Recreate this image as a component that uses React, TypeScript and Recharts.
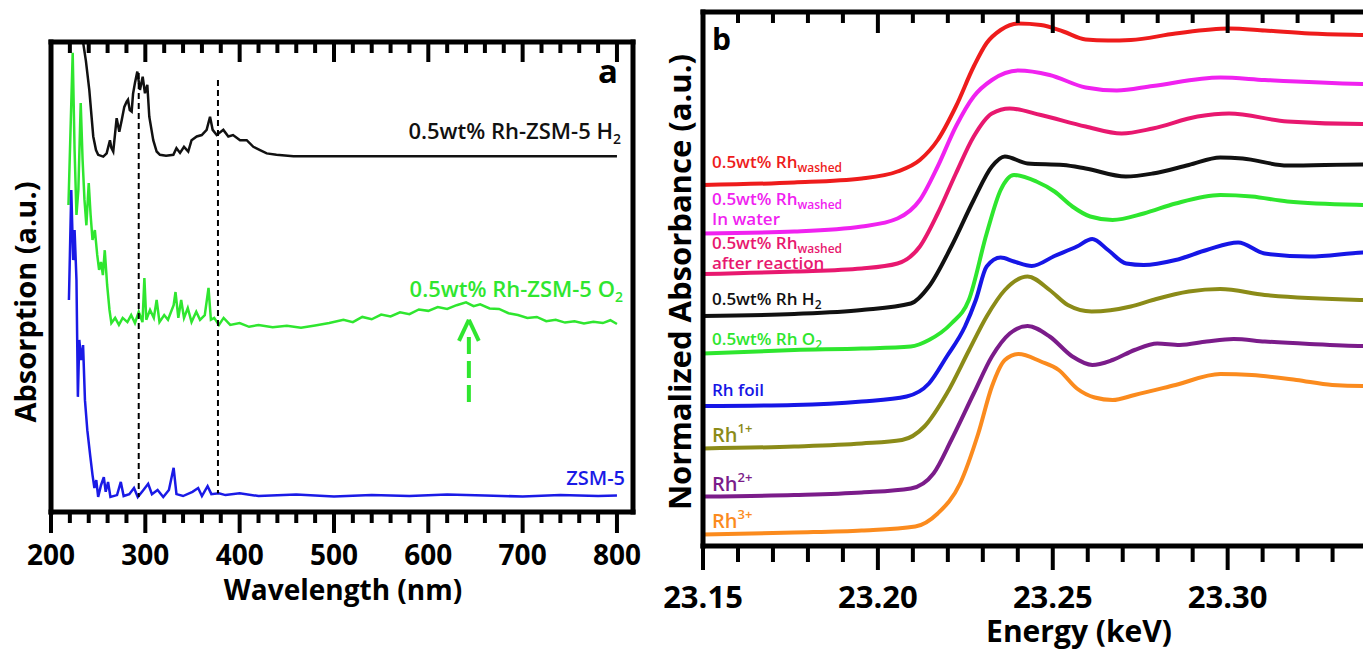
import React from 'react';
import { LineChart, Line, XAxis, YAxis, ReferenceLine } from 'recharts';

const FONT = "'Open Sans', 'DejaVu Sans', sans-serif";

// ---------------- Panel a : UV-vis ----------------
const uvXDomain: [number, number] = [200, 817];
const uvYDomain: [number, number] = [0, 100];
const wavelengthMajorTicks = [200, 300, 400, 500, 600, 700, 800];
const wavelengthTickLabels = ['200', '300', '400', '500', '600', '700', '800'];
const wavelengthMinorTicks = [220, 240, 260, 280, 320, 340, 360, 380, 420, 440, 460, 480, 520, 540, 560, 580, 620, 640, 660, 680, 720, 740, 760, 780];

const uvH2 = [
  { x: 230, y: 112 }, { x: 234, y: 100 }, { x: 237, y: 96 }, { x: 240.6, y: 89.8 }, { x: 243, y: 84.1 },
  { x: 244.8, y: 79.9 }, { x: 247.7, y: 77 }, { x: 250, y: 76 }, { x: 255.4, y: 75.6 }, { x: 259, y: 76.3 },
  { x: 262.5, y: 79.1 }, { x: 264, y: 77.5 }, { x: 266, y: 76.7 }, { x: 269.6, y: 83.8 }, { x: 272.4, y: 80.9 },
  { x: 275, y: 83.4 }, { x: 277.7, y: 86.2 }, { x: 280.2, y: 87.3 }, { x: 281.6, y: 87.7 }, { x: 283.5, y: 85.5 },
  { x: 285.5, y: 85.2 }, { x: 287, y: 89 }, { x: 289, y: 91.3 }, { x: 291.5, y: 93.7 }, { x: 294.3, y: 89.8 },
  { x: 297.2, y: 92.6 }, { x: 299.6, y: 89.1 }, { x: 302.1, y: 90.9 }, { x: 304.2, y: 84.1 }, { x: 308.4, y: 79.1 },
  { x: 312, y: 76.7 }, { x: 315.5, y: 76 }, { x: 322, y: 75.8 }, { x: 329.7, y: 76 }, { x: 333, y: 77.4 },
  { x: 336.8, y: 76.4 }, { x: 341, y: 77.7 }, { x: 345.5, y: 76.7 }, { x: 349, y: 79.1 }, { x: 354.5, y: 79.9 },
  { x: 359.8, y: 80.2 }, { x: 365, y: 81.3 }, { x: 368.6, y: 84.1 }, { x: 371.4, y: 81.3 }, { x: 375.7, y: 80.2 },
  { x: 382.7, y: 81.3 }, { x: 388, y: 79.9 }, { x: 393, y: 80.2 }, { x: 400.4, y: 79.1 }, { x: 407.5, y: 79.1 },
  { x: 414.5, y: 77.7 }, { x: 421.6, y: 77 }, { x: 428.7, y: 76.3 }, { x: 439, y: 76 }, { x: 457, y: 75.7 },
  { x: 800, y: 75.7 },
];

const uvO2 = [
  { x: 218.5, y: 65.3 }, { x: 221, y: 83.4 }, { x: 223, y: 97.7 }, { x: 225, y: 77 }, { x: 227, y: 63.2 },
  { x: 229, y: 68.5 }, { x: 231.5, y: 87 }, { x: 233.5, y: 74.9 }, { x: 235.5, y: 66.4 }, { x: 237.5, y: 61 },
  { x: 240, y: 70 }, { x: 242, y: 63.2 }, { x: 244, y: 57.9 }, { x: 246.5, y: 60 }, { x: 249, y: 54.7 },
  { x: 251, y: 51.5 }, { x: 253, y: 53.2 }, { x: 255, y: 50.4 }, { x: 257, y: 55.7 }, { x: 259.5, y: 48.3 },
  { x: 262, y: 43 }, { x: 264, y: 40.2 }, { x: 268, y: 41.3 }, { x: 272, y: 39.8 }, { x: 276, y: 41.3 },
  { x: 281, y: 40.4 }, { x: 285, y: 41.9 }, { x: 289, y: 40.2 }, { x: 293, y: 42.6 }, { x: 297, y: 40.4 },
  { x: 299, y: 49.8 }, { x: 301, y: 40.9 }, { x: 305, y: 43 }, { x: 309, y: 41.3 }, { x: 312, y: 45.1 },
  { x: 315, y: 40.4 }, { x: 320, y: 41.9 }, { x: 324, y: 40.9 }, { x: 330, y: 44 }, { x: 332, y: 46.8 },
  { x: 335, y: 41.3 }, { x: 338, y: 45.1 }, { x: 341, y: 41.3 }, { x: 345, y: 43.4 }, { x: 349, y: 40.4 },
  { x: 354, y: 42.6 }, { x: 358, y: 40.9 }, { x: 363, y: 41.9 }, { x: 367, y: 47.7 }, { x: 369.5, y: 40.9 },
  { x: 373, y: 41.3 }, { x: 378, y: 39.8 }, { x: 383, y: 41.3 }, { x: 390, y: 39.8 }, { x: 400, y: 40.2 },
  { x: 410, y: 39.4 }, { x: 420, y: 39.8 }, { x: 435, y: 39.3 }, { x: 450, y: 39.6 }, { x: 465, y: 39.2 },
  { x: 480, y: 39.7 }, { x: 495, y: 40.2 }, { x: 510, y: 40.9 }, { x: 520, y: 40.4 }, { x: 530, y: 41.5 },
  { x: 540, y: 41 }, { x: 550, y: 42 }, { x: 560, y: 41.6 }, { x: 570, y: 42.5 }, { x: 580, y: 42.1 },
  { x: 590, y: 43.1 }, { x: 600, y: 42.8 }, { x: 610, y: 43.6 }, { x: 620, y: 43.2 }, { x: 630, y: 44 },
  { x: 640, y: 44.6 }, { x: 648, y: 43.8 }, { x: 655, y: 44.2 }, { x: 665, y: 43.3 }, { x: 675, y: 43.2 },
  { x: 685, y: 42.3 }, { x: 695, y: 41.9 }, { x: 705, y: 41.3 }, { x: 715, y: 41.5 }, { x: 725, y: 40.6 },
  { x: 735, y: 40.9 }, { x: 745, y: 40.3 }, { x: 755, y: 40.6 }, { x: 765, y: 40.1 }, { x: 775, y: 40.5 },
  { x: 785, y: 40.2 }, { x: 793, y: 40.8 }, { x: 800, y: 40 },
];

const uvZSM5 = [
  { x: 219, y: 45.1 }, { x: 221.5, y: 68.5 }, { x: 223.5, y: 53.6 }, { x: 225, y: 60 }, { x: 227, y: 49.4 },
  { x: 228.5, y: 24.5 }, { x: 230, y: 36.6 }, { x: 232, y: 32.3 }, { x: 234, y: 35.5 }, { x: 236, y: 23.8 },
  { x: 238.5, y: 17.4 }, { x: 241.5, y: 12.1 }, { x: 244, y: 7.9 }, { x: 246, y: 5.1 }, { x: 248, y: 6.8 },
  { x: 250, y: 3.2 }, { x: 253, y: 5.7 }, { x: 256, y: 7.4 }, { x: 258, y: 4.3 }, { x: 260.5, y: 6.4 },
  { x: 263, y: 3.2 }, { x: 270, y: 3.6 }, { x: 274, y: 6.4 }, { x: 277, y: 3.4 }, { x: 283, y: 3.8 },
  { x: 288, y: 5.1 }, { x: 292, y: 3.2 }, { x: 298, y: 4.7 }, { x: 303, y: 6 }, { x: 307, y: 3.8 },
  { x: 313, y: 4.7 }, { x: 319, y: 3.2 }, { x: 325, y: 4.7 }, { x: 330, y: 9.4 }, { x: 333, y: 3.8 },
  { x: 340, y: 3.4 }, { x: 350, y: 4.3 }, { x: 356, y: 5.1 }, { x: 360, y: 3.4 }, { x: 366, y: 5.5 },
  { x: 370, y: 3.8 }, { x: 378, y: 4 }, { x: 385, y: 3.6 }, { x: 400, y: 4 }, { x: 420, y: 3.4 },
  { x: 460, y: 3.7 }, { x: 500, y: 3.3 }, { x: 540, y: 3.6 }, { x: 580, y: 3.4 }, { x: 620, y: 3.7 },
  { x: 660, y: 3.5 }, { x: 700, y: 3.3 }, { x: 740, y: 3.6 }, { x: 780, y: 3.4 }, { x: 800, y: 3.5 },
];

const markerWavelengths = [293, 377];
const markerTops = [93.4, 91.9];
const markerBottoms = [3.2, 4.0];
const arrowWavelength = 643;
const arrowBase = 23.4;
const arrowShaftTop = 38.3;
const arrowTip = 40.9;
const arrowWing = 36.4;
const arrowHalfWidth = 10.5;

// ---------------- Panel b : XANES ----------------
const energyDomain: [number, number] = [23.15, 23.365];
const absYDomain: [number, number] = [0, 10.68];
const energyMajorTicks = [23.15, 23.2, 23.25, 23.3, 23.35];
const energyTickLabels = ['23.15', '23.20', '23.25', '23.30', ''];
const energyMinorTicks = [23.16, 23.17, 23.18, 23.19, 23.21, 23.22, 23.23, 23.24, 23.26, 23.27, 23.28, 23.29, 23.31, 23.32, 23.33, 23.34, 23.36];

const xanesWashed = [
  { x: 23.15, y: 7.22 }, { x: 23.1761, y: 7.27 }, { x: 23.1954, y: 7.35 }, { x: 23.2056, y: 7.49 }, { x: 23.212, y: 7.72 },
  { x: 23.2171, y: 8.12 }, { x: 23.2223, y: 8.79 }, { x: 23.2274, y: 9.59 }, { x: 23.2311, y: 10.06 }, { x: 23.2351, y: 10.32 },
  { x: 23.2402, y: 10.45 }, { x: 23.2466, y: 10.42 }, { x: 23.253, y: 10.29 }, { x: 23.2594, y: 10.13 }, { x: 23.2658, y: 10.11 },
  { x: 23.2723, y: 10.12 }, { x: 23.2851, y: 10.25 }, { x: 23.3004, y: 10.35 }, { x: 23.3106, y: 10.31 }, { x: 23.3234, y: 10.25 },
  { x: 23.3386, y: 10.22 }, { x: 23.36, y: 10.2 },
];
const xanesWater = [
  { x: 23.15, y: 6.25 }, { x: 23.1761, y: 6.29 }, { x: 23.1954, y: 6.39 }, { x: 23.2056, y: 6.55 }, { x: 23.212, y: 6.92 },
  { x: 23.2171, y: 7.59 }, { x: 23.2223, y: 8.39 }, { x: 23.2274, y: 8.99 }, { x: 23.2326, y: 9.32 }, { x: 23.2402, y: 9.51 },
  { x: 23.2491, y: 9.42 }, { x: 23.2594, y: 9.17 }, { x: 23.2683, y: 9.11 }, { x: 23.2786, y: 9.2 }, { x: 23.2979, y: 9.37 },
  { x: 23.3106, y: 9.32 }, { x: 23.3386, y: 9.24 }, { x: 23.36, y: 9.22 },
];
const xanesReaction = [
  { x: 23.15, y: 5.44 }, { x: 23.1761, y: 5.49 }, { x: 23.1954, y: 5.55 }, { x: 23.2056, y: 5.65 }, { x: 23.212, y: 5.99 },
  { x: 23.2171, y: 6.65 }, { x: 23.2223, y: 7.45 }, { x: 23.2274, y: 8.19 }, { x: 23.2326, y: 8.65 }, { x: 23.2377, y: 8.75 },
  { x: 23.2466, y: 8.62 }, { x: 23.2594, y: 8.39 }, { x: 23.2697, y: 8.25 }, { x: 23.2786, y: 8.35 }, { x: 23.2914, y: 8.59 },
  { x: 23.3004, y: 8.65 }, { x: 23.3171, y: 8.49 }, { x: 23.3386, y: 8.44 }, { x: 23.36, y: 8.45 },
];
const xanesH2 = [
  { x: 23.15, y: 4.6 }, { x: 23.1761, y: 4.64 }, { x: 23.1954, y: 4.72 }, { x: 23.2094, y: 4.85 }, { x: 23.2146, y: 5.19 },
  { x: 23.221, y: 5.99 }, { x: 23.2274, y: 6.92 }, { x: 23.2326, y: 7.59 }, { x: 23.2363, y: 7.79 }, { x: 23.2428, y: 7.65 },
  { x: 23.253, y: 7.62 }, { x: 23.2594, y: 7.55 }, { x: 23.2709, y: 7.39 }, { x: 23.2786, y: 7.45 }, { x: 23.2889, y: 7.62 },
  { x: 23.2979, y: 7.77 }, { x: 23.3043, y: 7.75 }, { x: 23.3171, y: 7.61 }, { x: 23.3386, y: 7.63 }, { x: 23.36, y: 7.62 },
];
const xanesO2 = [
  { x: 23.15, y: 3.85 }, { x: 23.1761, y: 3.92 }, { x: 23.1954, y: 3.95 }, { x: 23.2094, y: 3.99 }, { x: 23.2146, y: 4.12 },
  { x: 23.221, y: 4.45 }, { x: 23.226, y: 4.92 }, { x: 23.2311, y: 6.25 }, { x: 23.2351, y: 7.12 }, { x: 23.2389, y: 7.42 },
  { x: 23.2453, y: 7.29 }, { x: 23.2505, y: 7.09 }, { x: 23.2556, y: 6.79 }, { x: 23.2607, y: 6.59 }, { x: 23.2671, y: 6.52 },
  { x: 23.276, y: 6.65 }, { x: 23.2851, y: 6.85 }, { x: 23.2979, y: 7.02 }, { x: 23.3069, y: 6.99 }, { x: 23.3171, y: 6.89 },
  { x: 23.3386, y: 6.82 }, { x: 23.36, y: 6.8 },
];
const xanesFoil = [
  { x: 23.15, y: 2.8 }, { x: 23.1761, y: 2.82 }, { x: 23.1954, y: 2.89 }, { x: 23.2082, y: 2.99 }, { x: 23.2146, y: 3.25 },
  { x: 23.2197, y: 3.79 }, { x: 23.2249, y: 4.39 }, { x: 23.228, y: 4.92 }, { x: 23.2311, y: 5.59 }, { x: 23.2351, y: 5.77 },
  { x: 23.2389, y: 5.69 }, { x: 23.244, y: 5.6 }, { x: 23.2505, y: 5.8 }, { x: 23.2569, y: 5.99 }, { x: 23.2613, y: 6.14 },
  { x: 23.2658, y: 5.92 }, { x: 23.271, y: 5.65 }, { x: 23.276, y: 5.62 }, { x: 23.2851, y: 5.72 }, { x: 23.294, y: 5.92 },
  { x: 23.303, y: 6.07 }, { x: 23.3106, y: 5.85 }, { x: 23.3234, y: 5.79 }, { x: 23.3386, y: 5.87 }, { x: 23.36, y: 5.9 },
];
const xanesRh1 = [
  { x: 23.15, y: 1.95 }, { x: 23.1761, y: 1.99 }, { x: 23.1954, y: 2.05 }, { x: 23.2069, y: 2.12 }, { x: 23.2133, y: 2.39 },
  { x: 23.2197, y: 3.05 }, { x: 23.2261, y: 3.92 }, { x: 23.2311, y: 4.59 }, { x: 23.2363, y: 5.12 }, { x: 23.2428, y: 5.39 },
  { x: 23.2491, y: 5.12 }, { x: 23.2543, y: 4.82 }, { x: 23.2611, y: 4.69 }, { x: 23.2723, y: 4.79 }, { x: 23.2786, y: 4.92 },
  { x: 23.2889, y: 5.09 }, { x: 23.2979, y: 5.14 }, { x: 23.3106, y: 5.02 }, { x: 23.3386, y: 4.92 }, { x: 23.36, y: 4.9 },
];
const xanesRh2 = [
  { x: 23.15, y: 0.99 }, { x: 23.1761, y: 1.02 }, { x: 23.1954, y: 1.07 }, { x: 23.2094, y: 1.15 }, { x: 23.2159, y: 1.45 },
  { x: 23.221, y: 2.12 }, { x: 23.2274, y: 3.05 }, { x: 23.2326, y: 3.79 }, { x: 23.2377, y: 4.25 }, { x: 23.2428, y: 4.4 },
  { x: 23.2491, y: 4.19 }, { x: 23.2556, y: 3.79 }, { x: 23.2613, y: 3.62 }, { x: 23.2671, y: 3.72 }, { x: 23.2734, y: 3.92 },
  { x: 23.2799, y: 4.05 }, { x: 23.2863, y: 4.02 }, { x: 23.294, y: 4.09 }, { x: 23.3017, y: 4.14 }, { x: 23.3106, y: 4.09 },
  { x: 23.3234, y: 4.04 }, { x: 23.3386, y: 4.0 }, { x: 23.36, y: 3.99 },
];
const xanesRh3 = [
  { x: 23.15, y: 0.23 }, { x: 23.1761, y: 0.27 }, { x: 23.1954, y: 0.31 }, { x: 23.2107, y: 0.39 }, { x: 23.2171, y: 0.65 },
  { x: 23.2235, y: 1.25 }, { x: 23.2287, y: 2.25 }, { x: 23.2326, y: 3.19 }, { x: 23.2363, y: 3.72 }, { x: 23.2402, y: 3.84 },
  { x: 23.2466, y: 3.69 }, { x: 23.2517, y: 3.52 }, { x: 23.2569, y: 3.15 }, { x: 23.262, y: 2.97 }, { x: 23.2671, y: 2.92 },
  { x: 23.2734, y: 3.02 }, { x: 23.2851, y: 3.22 }, { x: 23.2979, y: 3.44 }, { x: 23.3069, y: 3.42 }, { x: 23.3197, y: 3.32 },
  { x: 23.3299, y: 3.22 }, { x: 23.3386, y: 3.2 }, { x: 23.36, y: 3.2 },
];

const xanesSeries = [
  { data: xanesWashed, color: '#ee1c1c' },
  { data: xanesWater, color: '#f022f0' },
  { data: xanesReaction, color: '#e8186f' },
  { data: xanesH2, color: '#111111' },
  { data: xanesO2, color: '#2ee62e' },
  { data: xanesFoil, color: '#1616e6' },
  { data: xanesRh1, color: '#8b8b18' },
  { data: xanesRh2, color: '#7b1c8a' },
  { data: xanesRh3, color: '#fb8b1e' },
];

const sortNum = (a: number, b: number) => a - b;
const uvAllTicks = [...wavelengthMajorTicks, ...wavelengthMinorTicks].sort(sortNum);
const energyAllTicks = [...energyMajorTicks, ...energyMinorTicks].sort(sortNum);
const isMajor = (majors: number[], v: number) => majors.some((m) => Math.abs(m - v) < 1e-6);

// layout of the two plot areas (pixels)
const A_LEFT = 51, A_RIGHT = 633, A_TOP = 42, A_BOTTOM = 512;
const B_LEFT = 703, B_RIGHT = 1455, B_TOP = 12, B_BOTTOM = 546;
const B_OFFSET = 650;

// Outward bottom tick + label
function makeTick(majors: number[], labels: string[], botMajor: number, botMinor: number, labelDy: number, fontSize: number) {
  return (props: any) => {
    const { x, y, payload } = props;
    const v = payload.value;
    const idx = majors.findIndex((m) => Math.abs(m - v) < 1e-6);
    const major = idx >= 0;
    return (
      <g>
        <line x1={x} x2={x} y1={y} y2={y + (major ? botMajor : botMinor)} stroke="#000" strokeWidth={4} />
        {major && labels[idx] ? (
          <text x={x} y={y + labelDy} textAnchor="middle" fontFamily={FONT} fontWeight={700} fontSize={fontSize} fill="#000">
            {labels[idx]}
          </text>
        ) : null}
      </g>
    );
  };
}

const uvTick = makeTick(wavelengthMajorTicks, wavelengthTickLabels, 21, 11, 53, 28);
const enTick = makeTick(energyMajorTicks, energyTickLabels, 24, 16, 62, 31);

// inward ticks on the top frame edge, placed with the same linear mapping as the x axis
function topTicks(all: number[], majors: number[], domain: [number, number], left: number, right: number, top: number,
  majorLen: number, minorLen: number, prefix: string) {
  const k = (right - left) / (domain[1] - domain[0]);
  return all.map((t) => {
    const px = left + (t - domain[0]) * k;
    if (px > 1363) return null;
    const len = isMajor(majors, t) ? majorLen : minorLen;
    return <line key={prefix + t} x1={px} x2={px} y1={top} y2={top + len} stroke="#000" strokeWidth={4} />;
  });
}

function frame(xd: [number, number], yd: [number, number], prefix: string) {
  return [
    <ReferenceLine key={prefix + 'fb'} y={yd[0]} ifOverflow="visible" stroke="#000" strokeWidth={5} strokeLinecap="square" />,
    <ReferenceLine key={prefix + 'ft'} y={yd[1]} ifOverflow="visible" stroke="#000" strokeWidth={5} strokeLinecap="square" />,
    <ReferenceLine key={prefix + 'fl'} x={xd[0]} ifOverflow="visible" stroke="#000" strokeWidth={5} strokeLinecap="square" />,
    <ReferenceLine key={prefix + 'fr'} x={xd[1]} ifOverflow="visible" stroke="#000" strokeWidth={5} strokeLinecap="square" />,
  ];
}

const txt = (extra: any = {}) => ({ fontFamily: FONT, ...extra });

export default function App() {
  return (
    <div style={{ position: 'absolute', left: 0, top: 0, width: 1363, height: 650, overflow: 'hidden', background: '#fff' }}>
      <div style={{ position: 'absolute', left: 0, top: 0 }}>
        <LineChart width={660} height={650} margin={{ top: A_TOP, right: 660 - A_RIGHT, bottom: 650 - A_BOTTOM - 60, left: A_LEFT }}>
          <XAxis dataKey="x" type="number" domain={uvXDomain} allowDataOverflow ticks={uvAllTicks} interval={0}
            tickSize={0} tickMargin={0} tickLine={false} axisLine={false} tick={uvTick} height={60} />
          <YAxis hide type="number" domain={uvYDomain} allowDataOverflow />
          <Line data={uvH2} dataKey="y" stroke="#111" strokeWidth={2.5} dot={false} activeDot={false} isAnimationActive={false} type="linear" />
          <Line data={uvO2} dataKey="y" stroke="#2fe62f" strokeWidth={2.5} dot={false} activeDot={false} isAnimationActive={false} type="linear" />
          <Line data={uvZSM5} dataKey="y" stroke="#1a1ae6" strokeWidth={2.5} dot={false} activeDot={false} isAnimationActive={false} type="linear" />
          {markerWavelengths.map((w, i) => (
            <ReferenceLine key={'m' + i} segment={[{ x: w, y: markerTops[i] }, { x: w, y: markerBottoms[i] }]}
              stroke="#000" strokeWidth={2} strokeDasharray="6 4" />
          ))}
          <ReferenceLine segment={[{ x: arrowWavelength, y: arrowBase }, { x: arrowWavelength, y: arrowShaftTop }]}
            stroke="#2fe62f" strokeWidth={4} strokeDasharray="17 7" />
          <ReferenceLine segment={[{ x: arrowWavelength - arrowHalfWidth, y: arrowWing }, { x: arrowWavelength, y: arrowTip }]}
            stroke="#2fe62f" strokeWidth={4} />
          <ReferenceLine segment={[{ x: arrowWavelength + arrowHalfWidth, y: arrowWing }, { x: arrowWavelength, y: arrowTip }]}
            stroke="#2fe62f" strokeWidth={4} />
          {frame(uvXDomain, uvYDomain, 'a')}
        </LineChart>
      </div>
      <div style={{ position: 'absolute', left: B_OFFSET, top: 0 }}>
        <LineChart width={820} height={650} margin={{ top: B_TOP, right: 820 - (B_RIGHT - B_OFFSET), bottom: 650 - B_BOTTOM - 60, left: B_LEFT - B_OFFSET }}>
          <XAxis dataKey="x" type="number" domain={energyDomain} allowDataOverflow ticks={energyAllTicks} interval={0}
            tickSize={0} tickMargin={0} tickLine={false} axisLine={false} tick={enTick} height={60} />
          <YAxis hide type="number" domain={absYDomain} allowDataOverflow />
          {xanesSeries.map((s, i) => (
            <Line key={'x' + i} data={s.data} dataKey="y" stroke={s.color} strokeWidth={4} dot={false} activeDot={false}
              isAnimationActive={false} type="monotone" />
          ))}
          {frame(energyDomain, absYDomain, 'b')}
        </LineChart>
      </div>
      <svg width={1363} height={650} style={{ position: 'absolute', left: 0, top: 0, pointerEvents: 'none' }}>
        {topTicks(uvAllTicks, wavelengthMajorTicks, uvXDomain, A_LEFT, A_RIGHT, A_TOP, 20, 11, 'ta')}
        {topTicks(energyAllTicks, energyMajorTicks, energyDomain, B_LEFT, B_RIGHT, B_TOP, 21, 11, 'tb')}

        {/* panel a texts */}
        <text transform="translate(36,302) rotate(-90)" textAnchor="middle" {...txt({ fontSize: 29, fontWeight: 700 })} fill="#000">Absorption (a.u.)</text>
        <text x={343} y={600} textAnchor="middle" {...txt({ fontSize: 28, fontWeight: 700 })} fill="#000">Wavelength (nm)</text>
        <text x={608} y={83} textAnchor="middle" {...txt({ fontSize: 33, fontWeight: 700 })} fill="#000">a</text>
        <text x={621} y={139} textAnchor="end" {...txt({ fontSize: 22, fontWeight: 600 })} fill="#111">
          0.5wt% Rh-ZSM-5 H<tspan fontSize={14} dy={5}>2</tspan>
        </text>
        <text x={623} y={297} textAnchor="end" {...txt({ fontSize: 22, fontWeight: 600 })} fill="#2fe62f">
          0.5wt% Rh-ZSM-5 O<tspan fontSize={14} dy={5}>2</tspan>
        </text>
        <text x={625} y={485} textAnchor="end" {...txt({ fontSize: 20, fontWeight: 600 })} fill="#1a1ae6">ZSM-5</text>

        {/* panel b texts */}
        <text transform="translate(691,282) rotate(-90)" textAnchor="middle" {...txt({ fontSize: 31, fontWeight: 700 })} fill="#000">Normalized Absorbance (a.u.)</text>
        <text x={1079} y={642} textAnchor="middle" {...txt({ fontSize: 30, fontWeight: 700 })} fill="#000">Energy (keV)</text>
        <text x={712} y={50} {...txt({ fontSize: 30, fontWeight: 700 })} fill="#000">b</text>

        <text x={712} y={168} {...txt({ fontSize: 17, fontWeight: 600 })} fill="#ee1c1c">
          0.5wt% Rh<tspan fontSize={12} dy={4}>washed</tspan>
        </text>
        <text x={712} y={205} {...txt({ fontSize: 17, fontWeight: 600 })} fill="#f022f0">
          0.5wt% Rh<tspan fontSize={12} dy={4}>washed</tspan>
        </text>
        <text x={712} y={225} {...txt({ fontSize: 17, fontWeight: 600 })} fill="#f022f0">In water</text>
        <text x={712} y={249} {...txt({ fontSize: 17, fontWeight: 600 })} fill="#e8186f">
          0.5wt% Rh<tspan fontSize={12} dy={4}>washed</tspan>
        </text>
        <text x={712} y={269} {...txt({ fontSize: 17, fontWeight: 600 })} fill="#e8186f">after reaction</text>
        <text x={712} y={305} {...txt({ fontSize: 17, fontWeight: 600 })} fill="#111">
          0.5wt% Rh H<tspan fontSize={12} dy={4}>2</tspan>
        </text>
        <text x={712} y={345} {...txt({ fontSize: 17, fontWeight: 600 })} fill="#2ee62e">
          0.5wt% Rh O<tspan fontSize={12} dy={4}>2</tspan>
        </text>
        <text x={712} y={396} {...txt({ fontSize: 17, fontWeight: 600 })} fill="#1616e6">Rh foil</text>
        <text x={712} y={442} {...txt({ fontSize: 20, fontWeight: 600 })} fill="#8b8b18">
          Rh<tspan fontSize={13} dy={-9}>1+</tspan>
        </text>
        <text x={712} y={491} {...txt({ fontSize: 20, fontWeight: 600 })} fill="#7b1c8a">
          Rh<tspan fontSize={13} dy={-9}>2+</tspan>
        </text>
        <text x={712} y={528} {...txt({ fontSize: 20, fontWeight: 600 })} fill="#fb8b1e">
          Rh<tspan fontSize={13} dy={-9}>3+</tspan>
        </text>
      </svg>
    </div>
  );
}
